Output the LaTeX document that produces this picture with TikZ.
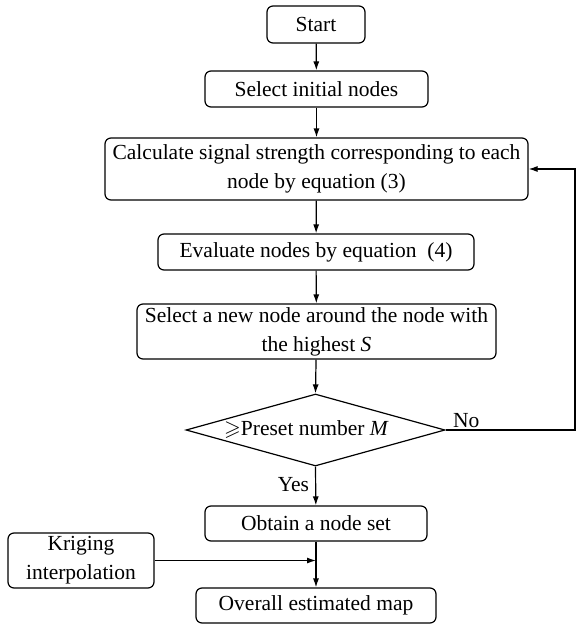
\documentclass[tikz,border=0pt]{standalone}
\usepackage{fontspec}
\usepackage{amssymb}
\setmainfont{Liberation Serif}
\usetikzlibrary{shapes.geometric,arrows.meta}
\begin{document}
\begin{tikzpicture}[x=1pt,y=-1pt,
  box/.style={draw, line width=1.2pt, rounded corners=6pt, align=center, inner sep=0pt,
    font=\fontsize{21.5}{29}\selectfont},
  dec/.style={draw, line width=1.2pt, diamond, shape aspect=3.6, inner sep=0pt,
    minimum width=259pt, minimum height=72pt, font=\fontsize{21.5}{29}\selectfont},
  lbl/.style={inner sep=0pt, font=\fontsize{21.5}{29}\selectfont},
  arr/.style={line width=1.2pt, -{Latex[length=9pt,width=6pt]}}]
\useasboundingbox (0,0) rectangle (577,624);
\node[box, minimum width=98pt, minimum height=37pt] (start) at (316,24.5) {Start};
\node[box, minimum width=223pt, minimum height=36pt] (init) at (316.5,89) {Select initial nodes};
\node[box, minimum width=423pt, minimum height=62pt] (calc) at (316.5,169) {Calculate signal strength corresponding to each\\node by equation (3)};
\node[box, minimum width=316pt, minimum height=36pt] (eval) at (316,252) {Evaluate nodes by equation~~(4)};
\node[box, minimum width=359pt, minimum height=55pt] (newn) at (316.5,331.5) {Select a new node around the node with\\the highest \textit{S}};
\node[dec] (dia) at (315.5,430) {\hspace*{-18pt}$\geqslant$Preset number \textit{M}};
\node[box, minimum width=222pt, minimum height=35pt] (obtain) at (316,523.5) {Obtain a node set};
\node[box, minimum width=146pt, minimum height=55pt] (krig) at (81,560.5) {Kriging\\interpolation};
\node[box, minimum width=240pt, minimum height=35pt] (overall) at (316,605.5) {Overall estimated map};
\coordinate (rb) at (575,430);
\coordinate (rt) at (575,169);
\coordinate (kj) at (316,560.5);
\draw[arr] (start) -- (init);
\draw[arr] (init) -- (calc);
\draw[arr] (calc) -- (eval);
\draw[arr] (eval) -- (newn);
\draw[arr] (newn) -- (dia.north);
\draw[arr] (dia.south) -- (obtain) node[lbl, pos=0.45, left=6pt] {Yes};
\draw[arr] (obtain) -- (overall);
\draw[arr] (krig.east) -- (kj);
\draw[arr] (dia.east) -- node[lbl, pos=0.16, above=2pt] {No} (rb) -- (rt) -- (calc.east);
\end{tikzpicture}
\end{document}
